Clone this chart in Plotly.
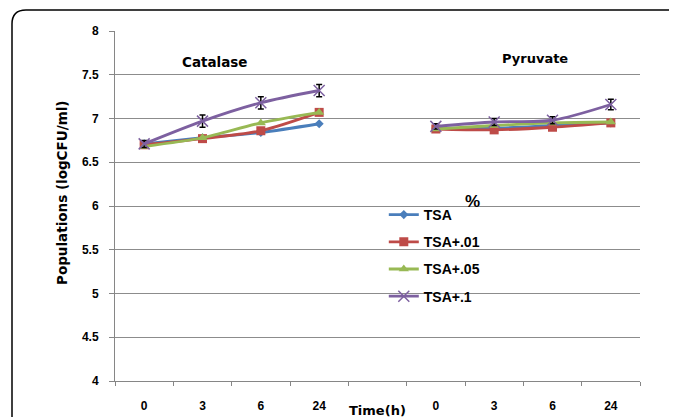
import plotly.graph_objects as go

categories = ["0", "3", "6", "24", " ", "0 ", "3 ", "6 ", "24 "]
catalase_x = ["0", "3", "6", "24"]
pyruvate_x = ["0 ", "3 ", "6 ", "24 "]
tick_text = ["0", "3", "6", "24", "", "0", "3", "6", "24"]

series_names = ["TSA", "TSA+.01", "TSA+.05", "TSA+.1"]
catalase_vals = {
    "TSA": [6.71, 6.78, 6.84, 6.94],
    "TSA+.01": [6.70, 6.77, 6.86, 7.07],
    "TSA+.05": [6.68, 6.78, 6.95, 7.07],
    "TSA+.1": [6.71, 6.97, 7.18, 7.32],
}
pyruvate_vals = {
    "TSA": [6.89, 6.89, 6.92, 6.95],
    "TSA+.01": [6.88, 6.87, 6.90, 6.95],
    "TSA+.05": [6.88, 6.92, 6.95, 6.96],
    "TSA+.1": [6.91, 6.96, 6.98, 7.16],
}
catalase_err = [0.04, 0.07, 0.07, 0.07]
pyruvate_err = [0.03, 0.04, 0.04, 0.06]

colors = {"TSA": "#4A7EBB", "TSA+.01": "#BE4B48", "TSA+.05": "#98B954", "TSA+.1": "#7D60A0"}
symbols = {"TSA": "diamond", "TSA+.01": "square", "TSA+.05": "triangle-up", "TSA+.1": "x-thin"}
sizes = {"TSA": 7, "TSA+.01": 9, "TSA+.05": 9, "TSA+.1": 11}

fig = go.Figure()
for name in series_names:
    for xs, vals, err, show in [(catalase_x, catalase_vals[name], catalase_err, True),
                                (pyruvate_x, pyruvate_vals[name], pyruvate_err, False)]:
        marker = dict(symbol=symbols[name], size=sizes[name], color=colors[name])
        if name == "TSA+.1":
            marker["line"] = dict(color=colors[name], width=1.5)
        fig.add_trace(go.Scatter(
            x=xs, y=vals, name=name, mode="lines+markers",
            line=dict(color=colors[name], width=2.8, shape="spline", smoothing=0.8),
            marker=marker, showlegend=show, legendgroup=name,
            error_y=dict(type="data", array=err, color="black", thickness=1.5, width=3,
                         visible=(name == "TSA+.1")),
        ))

# page offset of 8px (body margin) is compensated by margins
fig.update_layout(
    width=669, height=409,
    margin=dict(l=107, r=37, t=23, b=36),
    paper_bgcolor="white", plot_bgcolor="white",
    showlegend=True,
    legend=dict(x=0.512, y=0.52, xanchor="left", yanchor="top",
                font=dict(family="Liberation Sans", size=14, color="black", weight="bold"),
                bgcolor="rgba(0,0,0,0)", tracegroupgap=6, itemwidth=30),
    xaxis=dict(type="category", categoryorder="array", categoryarray=categories,
               range=[-0.5, 8.5], tickvals=categories, ticktext=tick_text,
               tickson="boundaries", ticks="outside", ticklen=4, tickcolor="#868686",
               showline=True, linecolor="#868686", linewidth=1, showgrid=False,
               tickfont=dict(family="Liberation Sans", size=12, color="black", weight="bold"),
               ticklabelstandoff=14, zeroline=False, automargin=False),
    yaxis=dict(range=[4, 8], tickvals=[4, 4.5, 5, 5.5, 6, 6.5, 7, 7.5, 8],
               ticktext=["4", "4.5", "5", "5.5", "6", "6.5", "7", "7.5", "8"],
               showgrid=True, gridcolor="#8C8C8C", gridwidth=1,
               ticks="outside", ticklen=5, tickcolor="#868686",
               showline=True, linecolor="#868686", linewidth=1, zeroline=False,
               tickfont=dict(family="Liberation Sans", size=12, color="black", weight="bold"),
               ticklabelstandoff=8, automargin=False),
)

px = lambda v: (v - 115) / 525
py = lambda v: (381 - v) / 350

def label(text, x, y, family, size, angle=0):
    fig.add_annotation(x=px(x), y=py(y), xref="paper", yref="paper",
                       xanchor="center", yanchor="middle",
                       text=text, showarrow=False, textangle=angle,
                       font=dict(family=family, size=size, color="black", weight="bold"))

label("Populations (logCFU/ml)", 62, 193, "DejaVu Sans", 13.5, angle=-90)
label("Catalase", 215, 62, "DejaVu Sans", 13.5)
label("Pyruvate", 535, 58, "DejaVu Sans", 13)
label("Time(h)", 377, 411, "DejaVu Sans", 13)
label("%", 472, 201, "Liberation Sans", 17)

# rounded outer border
x0, y0, x1, y1, r = 12, 10, 700, 440, 14
path = (f"M {px(x0)},{py(y1)} L {px(x0)},{py(y0 + r)} "
        f"Q {px(x0)},{py(y0)} {px(x0 + r)},{py(y0)} L {px(x1)},{py(y0)}")
fig.add_shape(type="path", path=path, xref="paper", yref="paper",
              line=dict(color="black", width=1.5), layer="below")

fig.write_html("out.html")
